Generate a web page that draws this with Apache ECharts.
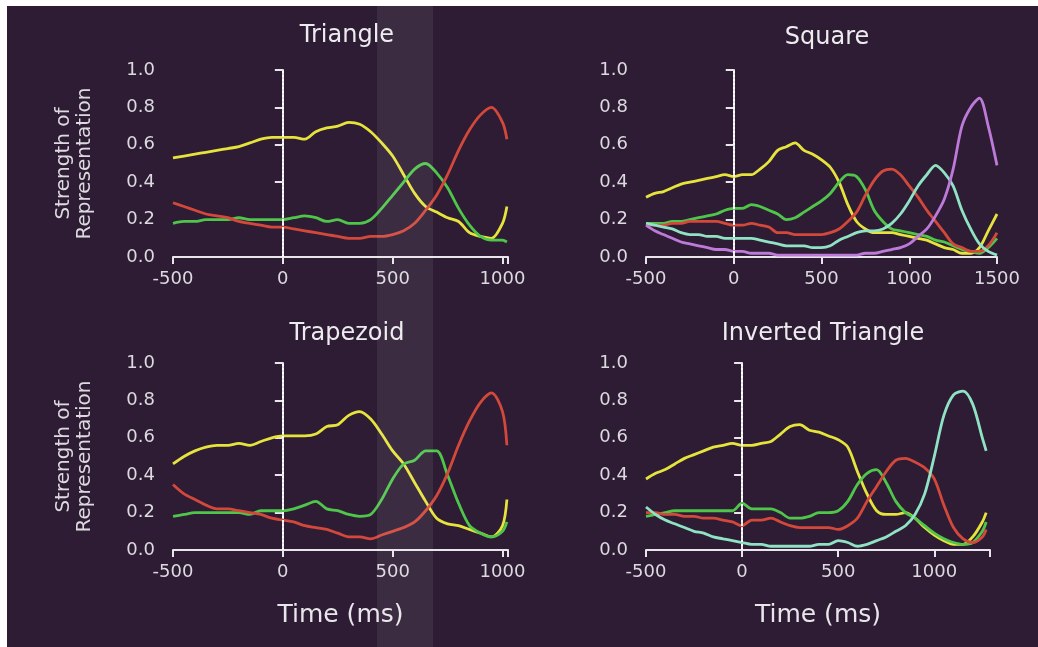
<!DOCTYPE html>
<html lang="en">
<head>
  <meta charset="UTF-8">
  <title>Strength of Representation</title>
  <script src="https://cdn.jsdelivr.net/npm/echarts@6/dist/echarts.min.js"></script>
  <style>
    html, body { margin: 0; padding: 0; background: #ffffff; }
    #main { position: absolute; left: 7px; top: 6px; width: 1031px; height: 641px; }
  </style>
</head>
<body>
  <div id="main"></div>
  <script type="text/javascript">
    // time axes (ms)
    var timesTriangle = [-500,-450,-400,-350,-300,-250,-200,-150,-100,-50,0,50,100,150,200,250,300,350,400,450,500,550,600,650,700,750,800,850,900,950,1000,1020];
    var timesSquare = [-500,-450,-400,-350,-300,-250,-200,-150,-100,-50,0,50,100,150,200,250,300,350,400,450,500,550,600,650,700,750,800,850,900,950,1000,1050,1100,1150,1200,1250,1300,1350,1400,1450,1500];
    var timesTrapezoid = timesTriangle;
    var timesInverted = [-500,-450,-400,-350,-300,-250,-200,-150,-100,-50,0,50,100,150,200,250,300,350,400,450,500,550,600,650,700,750,800,850,900,950,1000,1050,1100,1150,1200,1250,1270];

    // Triangle
    var triYellow = [.53,.54,.55,.56,.57,.58,.59,.61,.63,.64,.64, .64,.63,.67,.69,.70,.72,.71,.67,.61,.54, .44,.34,.27,.24,.21,.19,.13,.11,.10,.18, .27];
    var triGreen  = [.18,.19,.19,.20,.20,.20,.21,.20,.20,.20,.20, .21,.22,.21,.19,.20,.18,.18,.20,.26,.33, .40,.47,.50,.45,.37,.26,.17,.11,.09,.09, .08];
    var triRed    = [.29,.27,.25,.23,.22,.21,.19,.18,.17,.16,.16, .15,.14,.13,.12,.11,.10,.10,.11,.11,.12, .14,.18,.25,.33,.44,.57,.68,.76,.80,.72, .63];

    // Square
    var sqYellow = [.32,.34,.35,.37,.39,.40,.41,.42,.43,.44,.43, .44,.44,.47,.51,.57,.59,.61,.57,.55,.52, .48,.40,.28,.19,.15,.13,.13,.13,.12,.11, .10,.09,.07,.05,.04,.02,.02,.05,.14,.23];
    var sqGreen  = [.18,.18,.18,.19,.19,.20,.21,.22,.23,.25,.26, .26,.28,.27,.25,.23,.20,.21,.24,.27,.30, .34,.40,.44,.43,.36,.25,.19,.15,.14,.13, .12,.11,.09,.08,.06,.04,.03,.02,.05,.10];
    var sqRed    = [.17,.17,.17,.18,.18,.19,.19,.19,.19,.18,.17, .17,.18,.17,.16,.13,.13,.12,.12,.12,.12, .13,.15,.19,.24,.33,.41,.46,.47,.44,.38, .32,.25,.19,.13,.07,.05,.03,.03,.06,.13];
    var sqCyan   = [.18,.17,.16,.15,.13,.12,.12,.11,.11,.10,.10, .10,.10,.09,.08,.07,.06,.06,.06,.05,.05, .06,.09,.11,.13,.14,.14,.15,.18,.23,.30, .38,.44,.49,.45,.38,.25,.15,.07,.03,.01];
    var sqViolet = [.17,.14,.12,.10,.08,.07,.06,.05,.04,.04,.03, .03,.02,.02,.02,.01,.01,.01,.01,.01,.01, .01,.01,.01,.01,.02,.02,.03,.04,.05,.07, .11,.15,.22,.31,.47,.70,.80,.85,.70,.49];

    // Trapezoid
    var trapYellow = [.46,.50,.53,.55,.56,.56,.57,.56,.58,.60,.61, .61,.61,.62,.66,.67,.72,.74,.70,.62,.53, .46,.36,.26,.17,.14,.13,.11,.09,.07,.13, .27];
    var trapGreen  = [.18,.19,.20,.20,.20,.20,.20,.19,.21,.21,.21, .22,.24,.26,.22,.21,.19,.18,.19,.27,.38, .46,.48,.53,.53,.40,.25,.13,.09,.07,.10, .15];
    var trapRed    = [.35,.30,.27,.24,.22,.22,.21,.20,.19,.17,.16, .15,.13,.12,.11,.09,.07,.07,.06,.08,.10, .12,.15,.21,.29,.41,.56,.69,.79,.84,.74, .56];

    // Inverted Triangle
    var invYellow = [.38,.41,.43,.46,.49,.51,.53,.55,.56,.57,.56, .56,.57,.58,.62,.66,.67,.64,.63,.61,.59, .55,.42,.30,.21,.19,.19,.20,.17,.12,.08, .05,.03,.03,.07,.15, .20];
    var invGreen  = [.18,.19,.20,.21,.21,.21,.21,.21,.21,.21,.25, .22,.22,.22,.20,.17,.17,.18,.20,.20,.21, .26,.35,.41,.43,.36,.26,.20,.17,.13,.09, .06,.04,.03,.04,.10, .15];
    var invRed    = [.20,.20,.19,.19,.18,.18,.17,.17,.16,.15,.13, .16,.16,.17,.15,.13,.12,.12,.12,.12,.11, .13,.17,.26,.34,.42,.48,.49,.47,.44,.38, .24,.12,.06,.04,.07, .11];
    var invCyan   = [.23,.19,.16,.14,.12,.10,.09,.07,.06,.05,.04, .03,.03,.02,.02,.02,.02,.02,.03,.03,.05, .04,.02,.03,.05,.07,.10,.13,.19,.30,.50, .72,.83,.85,.78,.60, .53];

    var panelTitles = ['Triangle', 'Square', 'Trapezoid', 'Inverted Triangle'];

    var COLORS = { yellow: '#e6e33c', green: '#4fc64a', red: '#d2483a', cyan: '#8fe3c4', violet: '#bd7ad8' };
    var FONT = '"DejaVu Sans", Arial, sans-serif';
    var AXIS = '#e8e6ea';

    var myChart = echarts.init(document.getElementById('main'), null, { renderer: 'canvas' });

    var grids = [
      { left: 166, top: 64, width: 335, height: 187 },
      { left: 639, top: 64, width: 351, height: 187 },
      { left: 166, top: 357, width: 335, height: 187 },
      { left: 639, top: 357, width: 344, height: 187 }
    ];

    function xAxis(idx, max, withName) {
      return {
        type: 'value', gridIndex: idx, min: -500, max: max, interval: 500,
        axisLine: { show: true, onZero: false, lineStyle: { color: AXIS, width: 2 } },
        axisTick: { show: true, length: 7, lineStyle: { color: AXIS, width: 2 } },
        axisLabel: {
          color: '#dcdadf', fontSize: 18, fontFamily: FONT, margin: 13,
          formatter: function (v) { return v % 500 === 0 ? String(v) : ''; }
        },
        splitLine: { show: false },
        name: withName ? 'Time (ms)' : '',
        nameLocation: 'middle', nameGap: 53,
        nameTextStyle: { color: '#e8e6ea', fontSize: 25, fontFamily: FONT }
      };
    }

    function yAxis(idx, withName) {
      return {
        type: 'value', gridIndex: idx, min: 0, max: 1, interval: 0.2,
        axisLine: { show: true, lineStyle: { color: AXIS, width: 2 } },
        axisTick: { show: true, length: 8, lineStyle: { color: AXIS, width: 2 } },
        axisLabel: {
          color: '#dcdadf', fontSize: 18, fontFamily: FONT, margin: 18,
          formatter: function (v) { return v.toFixed(1); }
        },
        splitLine: { show: false },
        name: withName ? 'Strength of\nRepresentation' : '',
        nameLocation: 'middle', nameRotate: 90, nameGap: 78,
        nameTextStyle: { color: '#dcdadf', fontSize: 20, lineHeight: 21, fontFamily: FONT }
      };
    }

    function line(idx, times, vals, color, withZeroLine) {
      var s = {
        type: 'line', xAxisIndex: idx, yAxisIndex: idx,
        data: times.map(function (t, i) { return [t, vals[i]]; }),
        showSymbol: false, smooth: 0.3,
        lineStyle: { color: color, width: 2.8 },
        itemStyle: { color: color }
      };
      if (withZeroLine) {
        s.markLine = {
          silent: true, symbol: ['none', 'none'], label: { show: false },
          lineStyle: { color: '#ffffff', type: 'dotted', width: 2 },
          data: [{ xAxis: 0 }]
        };
      }
      return s;
    }

    var option = {
      animation: false,
      backgroundColor: '#2d1c34',
      title: [
        { text: panelTitles[0], left: 335, top: 13, textAlign: 'center' },
        { text: panelTitles[1], left: 815, top: 15, textAlign: 'center' },
        { text: panelTitles[2], left: 335, top: 311, textAlign: 'center' },
        { text: panelTitles[3], left: 811, top: 311, textAlign: 'center' }
      ].map(function (t) {
        t.textStyle = { color: '#ecebee', fontSize: 24, fontWeight: 'normal', fontFamily: FONT };
        return t;
      }),
      grid: grids,
      xAxis: [xAxis(0, 1025, false), xAxis(1, 1500, false), xAxis(2, 1025, true), xAxis(3, 1290, true)],
      yAxis: [yAxis(0, true), yAxis(1, false), yAxis(2, true), yAxis(3, false)],
      graphic: [{
        type: 'rect', z: 100, silent: true,
        shape: { x: 370, y: 0, width: 56, height: 641 },
        style: { fill: 'rgba(255,255,255,0.07)' }
      }],
      series: [
        line(0, timesTriangle, triYellow, COLORS.yellow, true),
        line(0, timesTriangle, triGreen, COLORS.green),
        line(0, timesTriangle, triRed, COLORS.red),

        line(1, timesSquare, sqYellow, COLORS.yellow, true),
        line(1, timesSquare, sqGreen, COLORS.green),
        line(1, timesSquare, sqRed, COLORS.red),
        line(1, timesSquare, sqCyan, COLORS.cyan),
        line(1, timesSquare, sqViolet, COLORS.violet),

        line(2, timesTrapezoid, trapYellow, COLORS.yellow, true),
        line(2, timesTrapezoid, trapGreen, COLORS.green),
        line(2, timesTrapezoid, trapRed, COLORS.red),

        line(3, timesInverted, invYellow, COLORS.yellow, true),
        line(3, timesInverted, invGreen, COLORS.green),
        line(3, timesInverted, invRed, COLORS.red),
        line(3, timesInverted, invCyan, COLORS.cyan)
      ]
    };

    myChart.setOption(option);
  </script>
</body>
</html>
